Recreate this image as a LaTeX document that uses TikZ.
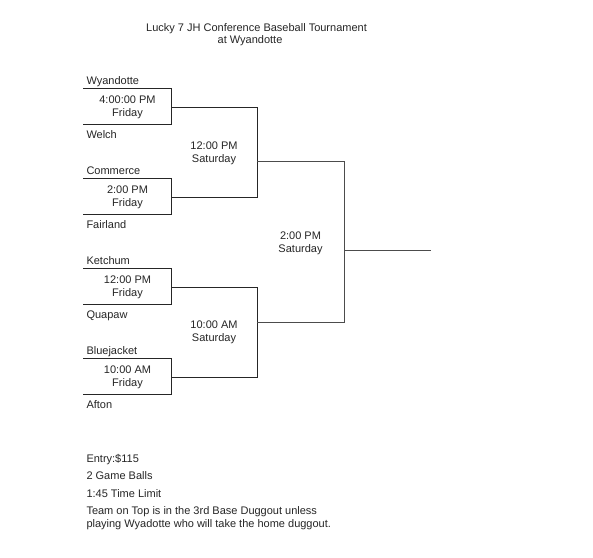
\documentclass[tikz,border=0pt]{standalone}
\usepackage{fontspec}
\setmainfont{Liberation Sans}
\begin{document}
\begin{tikzpicture}[x=1pt,y=-1pt,
  txt/.style={inner sep=0pt,outer sep=0pt,text=black!85,font=\fontsize{11}{13}\selectfont},
  lft/.style={txt,anchor=base west},
  ctr/.style={txt,anchor=base},
  boxline/.style={draw=black!85,line width=0.9pt},
  brk/.style={draw=black!70,line width=0.9pt}]
\useasboundingbox[fill=white] (0,0) rectangle (593,557);
% title
\node[ctr] (title1) at (256.5,31.5) {Lucky 7 JH Conference Baseball Tournament};
\node[ctr] (title2) at (250,43.5) {at Wyandotte};
% first-round games
\foreach \i/\t/\ta/\tb/\la in {1/88/Wyandotte/Welch/4:00:00 PM,2/178/Commerce/Fairland/2:00 PM,3/268/Ketchum/Quapaw/12:00 PM,4/358/Bluejacket/Afton/10:00 AM}{
  \coordinate (g\i tl) at (83,\t);
  \coordinate (g\i tr) at (171,\t);
  \coordinate (g\i br) at (171,\t+36);
  \coordinate (g\i bl) at (83,\t+36);
  \coordinate (g\i o) at (171,\t+19);
  \draw[boxline] (g\i tl) -- (g\i tr) -- (g\i br) -- (g\i bl);
  \node[lft] (top\i) at (86.5,\t-3.5) {\ta};
  \node[lft] (bot\i) at (86.5,\t+50) {\tb};
  \node[ctr] (time\i) at (127.5,\t+15.5) {\la};
  \node[ctr] (day\i) at (127.5,\t+28.5) {Friday};
}
% semifinal brackets
\coordinate (s1a) at (257,107);
\coordinate (s1b) at (257,197);
\coordinate (s1o) at (257,161);
\coordinate (s2a) at (257,287);
\coordinate (s2b) at (257,377);
\coordinate (s2o) at (257,322);
\draw[boxline] (g1o) -- (s1a) -- (s1b) -- (g2o);
\draw[boxline] (g3o) -- (s2a) -- (s2b) -- (g4o);
\node[ctr] (st1) at (214,149) {12:00 PM};
\node[ctr] (sd1) at (214,162) {Saturday};
\node[ctr] (st2) at (214,328) {10:00 AM};
\node[ctr] (sd2) at (214,341) {Saturday};
% final bracket
\coordinate (fa) at (344,161);
\coordinate (fb) at (344,322);
\coordinate (fo) at (344,250);
\coordinate (fend) at (431,250);
\draw[brk] (s1o) -- (fa) -- (fb) -- (s2o);
\draw[brk] (fo) -- (fend);
\node[ctr] (ft) at (300.5,239.5) {2:00 PM};
\node[ctr] (fd) at (300.5,252) {Saturday};
% notes
\node[lft] (n1) at (86.5,462) {Entry:\$115};
\node[lft] (n2) at (86.5,479.5) {2 Game Balls};
\node[lft] (n3) at (86.5,497) {1:45 Time Limit};
\node[lft] (n4) at (86.5,514) {Team on Top is in the 3rd Base Duggout unless};
\node[lft] (n5) at (86.5,527.5) {playing Wyadotte who will take the home duggout.};
\end{tikzpicture}
\end{document}
